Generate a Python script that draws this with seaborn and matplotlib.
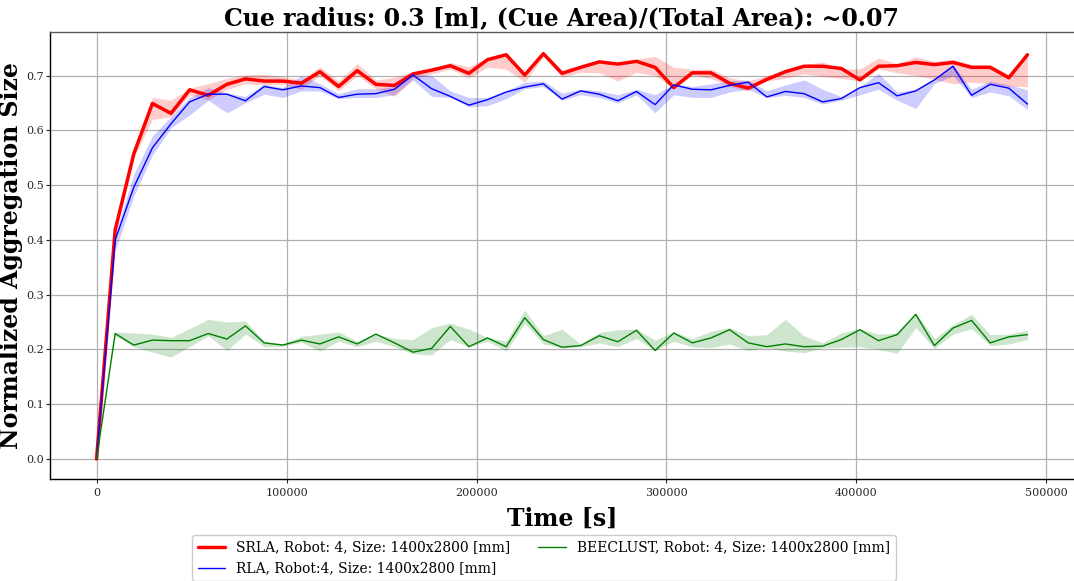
import numpy as np
import pandas as pd
import matplotlib
matplotlib.use("Agg")
import matplotlib.pyplot as plt
import seaborn as sns

# ---- data ----
time_s = np.arange(0, 490001, 9800)

srla_mean = [0.0, 0.418, 0.557, 0.649, 0.631, 0.674, 0.664, 0.684, 0.694, 0.690,
             0.690, 0.686, 0.707, 0.680, 0.709, 0.684, 0.682, 0.703, 0.710, 0.718,
             0.704, 0.729, 0.738, 0.701, 0.740, 0.704, 0.715, 0.725, 0.721, 0.726,
             0.715, 0.678, 0.705, 0.705, 0.686, 0.677, 0.693, 0.707, 0.717, 0.717,
             0.713, 0.692, 0.717, 0.718, 0.724, 0.720, 0.724, 0.715, 0.715, 0.696,
             0.738]
srla_low = [0.0, 0.410, 0.550, 0.620, 0.625, 0.665, 0.655, 0.675, 0.685, 0.683,
            0.684, 0.675, 0.700, 0.672, 0.700, 0.676, 0.662, 0.695, 0.703, 0.712,
            0.696, 0.715, 0.712, 0.688, 0.735, 0.697, 0.706, 0.705, 0.690, 0.706,
            0.700, 0.677, 0.700, 0.695, 0.680, 0.672, 0.690, 0.695, 0.703, 0.698,
            0.695, 0.690, 0.712, 0.705, 0.700, 0.693, 0.685, 0.688, 0.685, 0.680,
            0.680]
srla_high = [0.0, 0.422, 0.562, 0.660, 0.655, 0.677, 0.685, 0.695, 0.701, 0.702,
             0.698, 0.692, 0.716, 0.690, 0.722, 0.692, 0.697, 0.707, 0.712, 0.724,
             0.716, 0.733, 0.739, 0.706, 0.743, 0.710, 0.719, 0.728, 0.724, 0.730,
             0.735, 0.715, 0.712, 0.712, 0.696, 0.690, 0.700, 0.712, 0.720, 0.725,
             0.713, 0.712, 0.732, 0.722, 0.734, 0.726, 0.730, 0.720, 0.720, 0.702,
             0.743]

rla_mean = [0.0, 0.400, 0.496, 0.568, 0.612, 0.652, 0.666, 0.666, 0.654, 0.680,
            0.674, 0.681, 0.678, 0.660, 0.666, 0.667, 0.675, 0.701, 0.676, 0.662,
            0.646, 0.656, 0.670, 0.679, 0.685, 0.657, 0.672, 0.666, 0.654, 0.671,
            0.647, 0.683, 0.675, 0.674, 0.682, 0.688, 0.661, 0.671, 0.667, 0.652,
            0.658, 0.678, 0.687, 0.663, 0.672, 0.692, 0.717, 0.664, 0.684, 0.677,
            0.648]
rla_low = [0.0, 0.380, 0.480, 0.555, 0.605, 0.628, 0.655, 0.632, 0.650, 0.666,
           0.660, 0.672, 0.672, 0.658, 0.660, 0.660, 0.665, 0.692, 0.662, 0.660,
           0.643, 0.645, 0.658, 0.676, 0.680, 0.655, 0.665, 0.660, 0.650, 0.665,
           0.632, 0.665, 0.660, 0.660, 0.670, 0.675, 0.660, 0.664, 0.660, 0.648,
           0.655, 0.665, 0.675, 0.655, 0.640, 0.685, 0.700, 0.660, 0.670, 0.663,
           0.638]
rla_high = [0.0, 0.410, 0.520, 0.590, 0.625, 0.660, 0.678, 0.668, 0.662, 0.684,
            0.678, 0.700, 0.685, 0.667, 0.676, 0.676, 0.680, 0.705, 0.700, 0.672,
            0.660, 0.660, 0.672, 0.688, 0.690, 0.668, 0.675, 0.672, 0.665, 0.675,
            0.665, 0.685, 0.680, 0.685, 0.690, 0.692, 0.672, 0.683, 0.692, 0.675,
            0.662, 0.680, 0.704, 0.670, 0.675, 0.695, 0.720, 0.675, 0.690, 0.683,
            0.674]

bee_mean = [0.0, 0.229, 0.208, 0.217, 0.216, 0.216, 0.229, 0.219, 0.243, 0.212,
            0.208, 0.217, 0.210, 0.223, 0.210, 0.228, 0.212, 0.195, 0.202, 0.242,
            0.205, 0.221, 0.205, 0.258, 0.218, 0.204, 0.207, 0.225, 0.214, 0.235,
            0.198, 0.230, 0.212, 0.221, 0.236, 0.212, 0.205, 0.210, 0.205, 0.206,
            0.218, 0.236, 0.216, 0.227, 0.264, 0.207, 0.239, 0.253, 0.212, 0.223,
            0.227]
bee_low = [0.0, 0.225, 0.205, 0.195, 0.186, 0.205, 0.225, 0.198, 0.228, 0.205,
           0.206, 0.213, 0.197, 0.215, 0.205, 0.215, 0.205, 0.192, 0.190, 0.218,
           0.205, 0.215, 0.197, 0.248, 0.210, 0.203, 0.205, 0.212, 0.205, 0.220,
           0.198, 0.215, 0.205, 0.203, 0.210, 0.198, 0.203, 0.197, 0.194, 0.203,
           0.204, 0.205, 0.200, 0.193, 0.240, 0.202, 0.228, 0.238, 0.207, 0.210,
           0.218]
bee_high = [0.0, 0.232, 0.230, 0.228, 0.222, 0.238, 0.255, 0.250, 0.252, 0.215,
            0.210, 0.224, 0.228, 0.232, 0.215, 0.228, 0.220, 0.218, 0.240, 0.248,
            0.237, 0.222, 0.215, 0.272, 0.225, 0.237, 0.210, 0.231, 0.236, 0.237,
            0.217, 0.232, 0.220, 0.233, 0.240, 0.225, 0.227, 0.255, 0.225, 0.212,
            0.230, 0.238, 0.228, 0.230, 0.267, 0.220, 0.245, 0.264, 0.227, 0.228,
            0.235]

series_names = ["SRLA, Robot: 4, Size: 1400x2800 [mm]",
                "RLA, Robot:4, Size: 1400x2800 [mm]",
                "BEECLUST, Robot: 4, Size: 1400x2800 [mm]"]
series_colors = ["red", "blue", "green"]
series_widths = [2.5, 1.0, 1.0]

# ---- style ----
sns.set_style("whitegrid", {"grid.color": "#b0b0b0", "axes.edgecolor": "black"})
plt.rcParams["font.family"] = ["DejaVu Serif"]
plt.rcParams["text.color"] = "black"
plt.rcParams["axes.labelcolor"] = "black"

fig = plt.figure(figsize=(10.74, 5.81), dpi=100)
ax = fig.add_axes([50 / 1074, 1 - 479.3 / 581, 1 - 50 / 1074, (479.3 - 32.3) / 581])

means = [srla_mean, rla_mean, bee_mean]
lows = [srla_low, rla_low, bee_low]
highs = [srla_high, rla_high, bee_high]

for name, col, lw, m, lo, hi in zip(series_names, series_colors, series_widths,
                                    means, lows, highs):
    df = pd.DataFrame({"Time": time_s, "Size": m})
    sns.lineplot(data=df, x="Time", y="Size", color=col, linewidth=lw,
                 label=name, ax=ax, legend=False)
    ax.fill_between(time_s, lo, hi, color=col, alpha=0.2, linewidth=0)

ax.set_xlim(-24500, 514500)
ax.set_ylim(-0.0371, 0.779)
ax.set_yticks([0.0, 0.1, 0.2, 0.3, 0.4, 0.5, 0.6, 0.7])
ax.set_xticks([0, 100000, 200000, 300000, 400000, 500000])
ax.tick_params(axis="both", labelsize=8, colors="0.15", length=3, width=0.8,
               left=True, bottom=True)
ax.tick_params(axis="y", pad=1.5)
ax.grid(True, color="#b0b0b0", linewidth=0.9)
for side in ["left", "bottom", "top"]:
    ax.spines[side].set_color("black")
    ax.spines[side].set_linewidth(1.0)
ax.spines["top"].set_color("0.35")
ax.spines["right"].set_visible(False)

ax.set_title("Cue radius: 0.3 [m], (Cue Area)/(Total Area): ~0.07",
             fontsize=17, fontweight="bold", pad=5, color="black")
ax.set_xlabel("Time [s]", fontsize=17, fontweight="bold", labelpad=6, color="black")
ax.set_ylabel("Normalized Aggregation Size", fontsize=17, fontweight="bold",
              labelpad=2, color="black")

handles, labels = ax.get_legend_handles_labels()
fig.legend(handles, labels, loc="upper center", ncol=2, fontsize=10,
           bbox_to_anchor=(544 / 1074, 1 - 535 / 581), frameon=True,
           edgecolor="0.8", fancybox=True, framealpha=1.0,
           borderaxespad=0, handlelength=2, columnspacing=2.0)

fig.savefig("out.png", dpi=100)
